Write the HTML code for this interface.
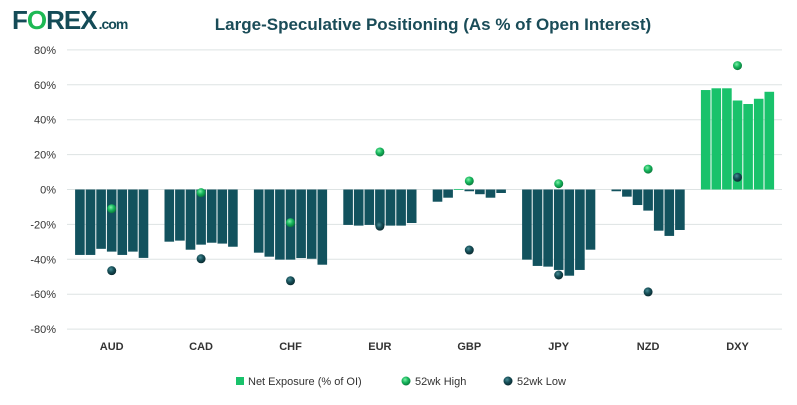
<!DOCTYPE html>
<html><head><meta charset="utf-8"><style>
body{margin:0;background:#fff;font-family:"Liberation Sans",sans-serif}
svg{display:block}
</style></head><body>
<svg id="c" width="797" height="405">
<defs>
<radialGradient id="gh" cx="40%" cy="35%" r="65%"><stop offset="0" stop-color="#7ff0a8"/><stop offset="0.5" stop-color="#18b85e"/><stop offset="1" stop-color="#0a7a3c"/></radialGradient>
<radialGradient id="gl" cx="40%" cy="35%" r="65%"><stop offset="0" stop-color="#4a8d96"/><stop offset="0.5" stop-color="#164f58"/><stop offset="1" stop-color="#0a2a30"/></radialGradient>
</defs>
<text x="12" y="29" font-size="26" font-weight="bold" fill="#144b57" style="letter-spacing:-1px">F<tspan fill="#1db954">O</tspan>REX<tspan font-size="14" dx="2">.com</tspan></text>
<text x="433" y="30" text-anchor="middle" font-size="17" font-weight="bold" fill="#1a4c58">Large-Speculative Positioning (As % of Open Interest)</text>
<g id="grid"></g><g id="bars"></g><g id="dots"></g><g id="axis"></g>
<g>
<rect x="236" y="377" width="8" height="8" fill="#19c26b"/>
<text x="248" y="385" font-size="11" fill="#333">Net Exposure (% of OI)</text>
<circle cx="406" cy="381" r="4.5" fill="url(#gh)"/>
<text x="415" y="385" font-size="11" fill="#333">52wk High</text>
<circle cx="508" cy="381" r="4.5" fill="url(#gl)"/>
<text x="517" y="385" font-size="11" fill="#333">52wk Low</text>
</g>
</svg>
<script>
const categories=["AUD","CAD","CHF","EUR","GBP","JPY","NZD","DXY"];
const netExposure=[
[-37.5,-37.5,-34,-35.6,-37.5,-35.6,-39.2],
[-29.9,-29.3,-34.5,-31.6,-30.5,-31,-32.8],
[-36.2,-38.5,-40.2,-40.2,-39.3,-39.7,-43.1],
[-20.3,-20.7,-20.3,-20.7,-20.7,-20.7,-19.2],
[-7,-4.7,0.3,-1,-2.7,-4.7,-2],
[-40.2,-43.8,-44.2,-46.1,-49.4,-46.1,-34.5],
[-1,-4.1,-8.9,-12.1,-23.6,-26.6,-23.2],
[57,58,58,51,49,52,56]];
const high52=[-11,-1.8,-19,21.5,4.9,3.3,11.7,71];
const low52=[-46.5,-39.7,-52.3,-21,-34.7,-49,-58.7,7];
const ticks=[80,60,40,20,0,-20,-40,-60,-80];
const NS="http://www.w3.org/2000/svg";
const x0=67,gw=89.4,y=v=>189.5-v*1.745,bw=10.6;
function mk(t,a,p){const e=document.createElementNS(NS,t);for(const k in a)e.setAttribute(k,a[k]);p.appendChild(e);return e;}
const G=document.getElementById('grid'),B=document.getElementById('bars'),D=document.getElementById('dots'),A=document.getElementById('axis');
ticks.forEach(t=>{
 const l=mk('line',{x1:x0,x2:782,y1:y(t),y2:y(t),stroke:'#dde3e3','stroke-width':1},G);
 
 
 const tx=mk('text',{x:56,y:y(t)+4,'text-anchor':'end','font-size':11,fill:'#333'},A);
 tx.textContent=t+'%';
 
 
});
categories.forEach((c,i)=>{
 const cx=x0+gw*(i+0.5),start=cx-bw*3.5;
 netExposure[i].forEach((v,j)=>{
  const r=mk('rect',{x:start+j*bw+0.5,y:Math.min(y(v),y(0)),width:bw-1,height:Math.max(Math.abs(y(v)-y(0)),0.8),fill:v>=0?'#19c26b':'#12525e'},B);
  
  
 });
 const h=mk('circle',{cx:cx,cy:y(high52[i]),r:4.5,fill:'url(#gh)'},D);
 
 
 const lo=mk('circle',{cx:cx,cy:y(low52[i]),r:4.5,fill:'url(#gl)'},D);
 
 
 const t=mk('text',{x:cx,y:350,'text-anchor':'middle','font-size':11,'font-weight':'bold',fill:'#333'},A);
 t.textContent=c;
 
 
});
</script>
</body></html>
